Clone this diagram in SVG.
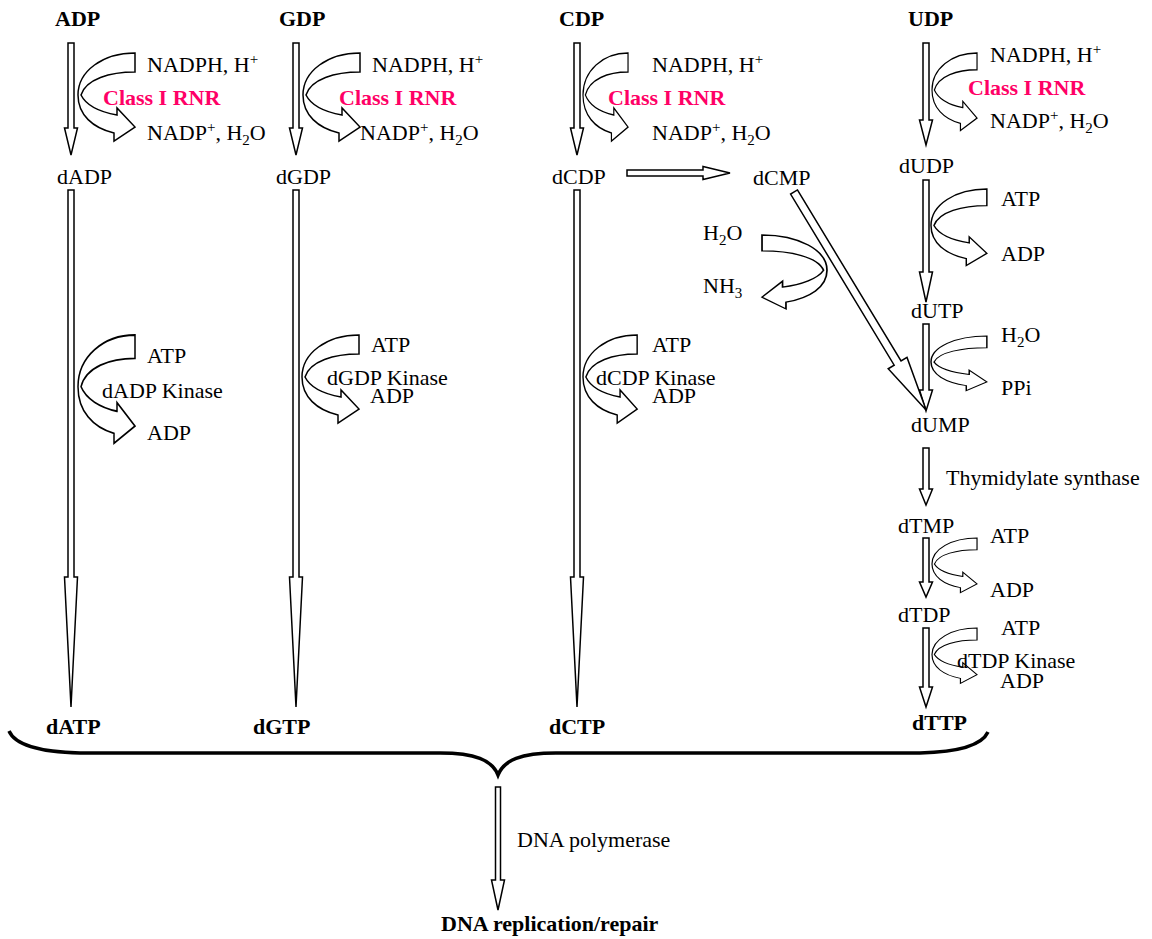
<svg xmlns="http://www.w3.org/2000/svg" xmlns:xlink="http://www.w3.org/1999/xlink" width="1152" height="939" viewBox="0 0 1152 939">
<style>
text{font-family:"Liberation Serif","Times New Roman",serif;font-size:22px;fill:#000}
.b{font-weight:bold}
.rnr{font-weight:bold;fill:#ff0066}
.ar{fill:#fff;stroke:#000;stroke-width:1.5;stroke-linejoin:miter}
.cv{fill:#fff;stroke:#000;stroke-width:1.5;vector-effect:non-scaling-stroke}
.sm{font-size:15px}
</style>
<defs>
<path id="curl" d="M57 0 L57 19 C32 19 8 26 3 42 C8 52 22 59 39 62 L39 55 L57 74 L36 88 L36 80 C15 75 0 62 0 42 C0 18 25 0 57 0 Z"/>
</defs>

<g id="connectors">
  <!-- RNR vertical arrows -->
  <polygon class="ar" points="68,43 74,43 74,128 77.5,128 71,155 64.5,128 68,128"/>
  <polygon class="ar" points="293,43 299,43 299,128 302.5,128 296,155 289.5,128 293,128"/>
  <polygon class="ar" points="574,43 580,43 580,128 583.5,128 577,155 570.5,128 574,128"/>
  <polygon class="ar" points="923,43 929,43 929,120 932.5,120 926,145 919.5,120 923,120"/>
  <!-- long kinase arrows -->
  <polygon class="ar" points="68,190 74,190 74,577 77.5,577 71,707 64.5,577 68,577"/>
  <polygon class="ar" points="293,190 299,190 299,577 302.5,577 296,707 289.5,577 293,577"/>
  <polygon class="ar" points="574,190 580,190 580,577 583.5,577 577,707 570.5,577 574,577"/>
  <!-- UDP column -->
  <polygon class="ar" points="923,180 929,180 929,272 932.5,272 926,302 919.5,272 923,272"/>
  <polygon class="ar" points="923,324 929,324 929,390 932.5,390 926,411 919.5,390 923,390"/>
  <polygon class="ar" points="923,448 929,448 929,489 932.5,489 926,505 919.5,489 923,489"/>
  <polygon class="ar" points="923,538 929,538 929,582 932.5,582 926,597 919.5,582 923,582"/>
  <polygon class="ar" points="923,628 929,628 929,687 932.5,687 926,707 919.5,687 923,687"/>
  <!-- dCDP -> dCMP -->
  <polygon class="ar" points="627,170 703,170 703,166.5 730,173 703,179.5 703,176 627,176"/>
  <!-- dCMP -> dUMP -->
  <polygon class="ar" transform="translate(794,192) rotate(58.8)" points="0,-4 200,-4 200,-11 255,0 200,11 200,4 0,4"/>
  <!-- DNA polymerase -->
  <polygon class="ar" points="495.5,787 500.5,787 500.5,880 504.5,880 498,910 491.5,880 495.5,880"/>
  <!-- curved side arrows -->
  <use xlink:href="#curl" class="cv" transform="translate(78,53)"/>
  <use xlink:href="#curl" class="cv" transform="translate(303,53)"/>
  <use xlink:href="#curl" class="cv" transform="translate(583,53) scale(0.79,1)"/>
  <use xlink:href="#curl" class="cv" transform="translate(932,53) scale(0.79,0.88)"/>
  <use xlink:href="#curl" class="cv" transform="translate(78,335) scale(1,1.23)"/>
  <use xlink:href="#curl" class="cv" transform="translate(302,335)"/>
  <use xlink:href="#curl" class="cv" transform="translate(583,335) scale(0.95,1)"/>
  <use xlink:href="#curl" class="cv" transform="translate(931,189) scale(0.98,0.87)"/>
  <use xlink:href="#curl" class="cv" transform="translate(931,336) scale(0.98,0.62)"/>
  <use xlink:href="#curl" class="cv" transform="translate(932,538) scale(0.79,0.62)"/>
  <use xlink:href="#curl" class="cv" transform="translate(932,628) scale(0.79,0.63)"/>
  <use xlink:href="#curl" class="cv" transform="translate(827,235) scale(-1.14,0.84)"/>
  <!-- brace -->
  <path d="M9 731 C15 745 40 752 80 753 L440 753 C475 753 492 760 498 775 C504 760 521 753 556 753 L920 753 C960 752 982 745 988 732" fill="none" stroke="#000" stroke-width="3.5"/>
</g>

<g id="adp-col">
  <text class="b" x="55" y="26">ADP</text>
  <text x="147" y="72">NADPH, H<tspan class="sm" dy="-8">+</tspan></text>
  <text class="rnr" x="103" y="105">Class I RNR</text>
  <text x="147" y="140">NADP<tspan class="sm" dy="-8">+</tspan><tspan dy="8">, H</tspan><tspan class="sm" dy="5">2</tspan><tspan dy="-5">O</tspan></text>
  <text x="57" y="184">dADP</text>
  <text x="147" y="363">ATP</text>
  <text x="102" y="398">dADP Kinase</text>
  <text x="147" y="440">ADP</text>
  <text class="b" x="46" y="734">dATP</text>
</g>

<g id="gdp-col">
  <text class="b" x="279" y="26">GDP</text>
  <text x="372" y="72">NADPH, H<tspan class="sm" dy="-8">+</tspan></text>
  <text class="rnr" x="339" y="105">Class I RNR</text>
  <text x="360" y="140">NADP<tspan class="sm" dy="-8">+</tspan><tspan dy="8">, H</tspan><tspan class="sm" dy="5">2</tspan><tspan dy="-5">O</tspan></text>
  <text x="276" y="184">dGDP</text>
  <text x="371" y="352">ATP</text>
  <text x="327" y="385">dGDP Kinase</text>
  <text x="370" y="403">ADP</text>
  <text class="b" x="253" y="734">dGTP</text>
</g>

<g id="cdp-col">
  <text class="b" x="559" y="26">CDP</text>
  <text x="652" y="72">NADPH, H<tspan class="sm" dy="-8">+</tspan></text>
  <text class="rnr" x="608" y="105">Class I RNR</text>
  <text x="652" y="140">NADP<tspan class="sm" dy="-8">+</tspan><tspan dy="8">, H</tspan><tspan class="sm" dy="5">2</tspan><tspan dy="-5">O</tspan></text>
  <text x="552" y="184">dCDP</text>
  <text x="652" y="352">ATP</text>
  <text x="596" y="385">dCDP Kinase</text>
  <text x="652" y="403">ADP</text>
  <text class="b" x="549" y="734">dCTP</text>
</g>

<g id="dcmp">
  <text x="753" y="185">dCMP</text>
  <text x="703" y="240">H<tspan class="sm" dy="5">2</tspan><tspan dy="-5">O</tspan></text>
  <text x="703" y="293">NH<tspan class="sm" dy="5">3</tspan></text>
</g>

<g id="udp-col">
  <text class="b" x="908" y="26">UDP</text>
  <text x="990" y="62">NADPH, H<tspan class="sm" dy="-8">+</tspan></text>
  <text class="rnr" x="968" y="95">Class I RNR</text>
  <text x="990" y="128">NADP<tspan class="sm" dy="-8">+</tspan><tspan dy="8">, H</tspan><tspan class="sm" dy="5">2</tspan><tspan dy="-5">O</tspan></text>
  <text x="899" y="173">dUDP</text>
  <text x="1001" y="206">ATP</text>
  <text x="1001" y="261">ADP</text>
  <text x="911" y="318">dUTP</text>
  <text x="1001" y="342">H<tspan class="sm" dy="5">2</tspan><tspan dy="-5">O</tspan></text>
  <text x="1001" y="395">PPi</text>
  <text x="911" y="432">dUMP</text>
  <text x="946" y="485">Thymidylate synthase</text>
  <text x="898" y="533">dTMP</text>
  <text x="990" y="543">ATP</text>
  <text x="990" y="597">ADP</text>
  <text x="898" y="622">dTDP</text>
  <text x="1001" y="635">ATP</text>
  <text x="957" y="668">dTDP Kinase</text>
  <text x="1000" y="688">ADP</text>
  <text class="b" x="912" y="730">dTTP</text>
</g>

<g id="dna">
  <text x="517" y="847">DNA polymerase</text>
  <text class="b" x="441" y="931">DNA replication/repair</text>
</g>
</svg>
